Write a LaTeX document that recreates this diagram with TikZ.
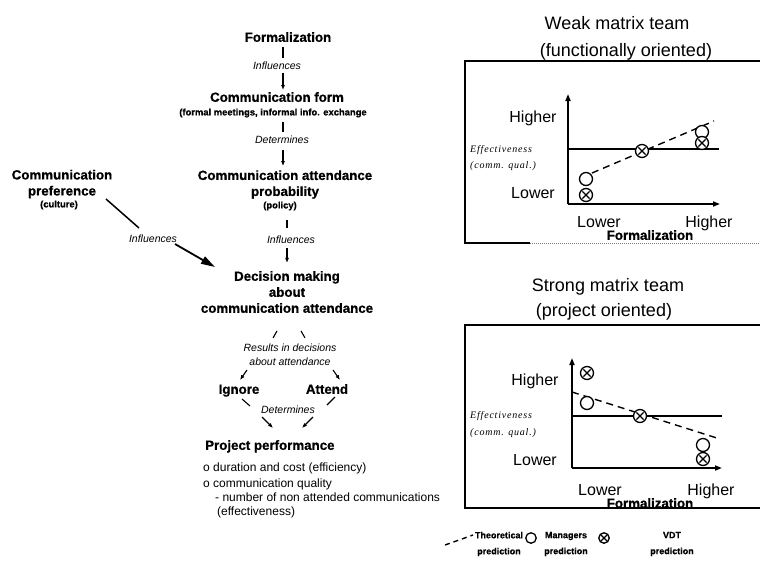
\documentclass[tikz,border=0pt]{standalone}
\usepackage{fontspec}
\setmainfont{Liberation Sans}[BoldFeatures={FakeBold=0.8}]
\newfontfamily\effont[LetterSpace=8]{Liberation Serif}
\usetikzlibrary{arrows.meta,calc}

\tikzset{
  flow/.style={inner sep=0pt, align=center},
  bnode/.style={flow, font=\fontsize{13.3}{16}\selectfont\bfseries},
  bline/.style={bnode, text height=9.6pt, text depth=0pt},
  lbl/.style={flow, font=\fontsize{10.5}{14}\selectfont\itshape, text height=7.6pt, text depth=0pt},
  lbltwo/.style={flow, font=\fontsize{10.5}{14}\selectfont\itshape},
  note/.style={flow, font=\fontsize{9.4}{11}\selectfont\bfseries, text height=6.8pt, text depth=0pt},
  item/.style={inner sep=0pt, anchor=west, font=\fontsize{12}{14}\selectfont, text height=8.6pt, text depth=0pt},
  link/.style={line width=1.1pt},
  arr/.style={link, -{Latex[length=5pt,width=4pt]}},
  bigarr/.style={line width=1.8pt, -{Triangle[length=14pt,width=8pt]}},
  title/.style={inner sep=0pt, font=\fontsize{18}{20}\selectfont, text height=13pt, text depth=0pt},
  axlbl/.style={inner sep=0pt, font=\fontsize{16}{18}\selectfont, text height=11.5pt, text depth=0pt},
  axname/.style={inner sep=0pt, font=\fontsize{13.3}{16}\selectfont\bfseries, text height=9.6pt, text depth=0pt},
  efflbl/.style={inner sep=0pt, anchor=west, font=\fontsize{10}{12}\selectfont\effont\itshape},
  frame/.style={line width=1.5pt},
  axis/.style={line width=1.6pt},
  axisarr/.style={axis, -{Triangle[length=7pt,width=5pt]}},
  refline/.style={line width=1.5pt},
  theory/.style={line width=1.4pt, dash pattern=on 7pt off 5pt},
  mgr/.style={circle, draw, fill=white, line width=1.3pt, minimum size=13pt, inner sep=0pt},
  vdt/.style={mgr, path picture={
      \draw[line width=1.2pt]
        ([shift={(-3.6pt,-3.6pt)}]path picture bounding box.center) --
        ([shift={(3.6pt,3.6pt)}]path picture bounding box.center)
        ([shift={(-3.6pt,3.6pt)}]path picture bounding box.center) --
        ([shift={(3.6pt,-3.6pt)}]path picture bounding box.center);}},
  smallmark/.style={minimum size=10.5pt},
  legend/.style={flow, font=\fontsize{9}{16}\selectfont\bfseries},
}

\begin{document}
\begin{tikzpicture}[x=1pt,y=-1pt]
\useasboundingbox (0,0) rectangle (760,563);

% ---------------- causal chain ----------------
\node[bline] (formal) at (288,37) {Formalization};
\node[lbl] (infl1) at (277,66) {Influences};
\node[bline] (cform) at (277,97) {Communication form};
\node[note] (cformnote) at (273,112) {(formal meetings, informal info. exchange};
\node[lbl] (det1) at (282,140) {Determines};
\node[bnode] (attprob) at (285,184.5) {Communication attendance\\probability};
\node[note] (policy) at (280,205) {(policy)};
\node[lbl] (infl2) at (291,240) {Influences};
\node[bnode] (decide) at (287,292) {Decision making\\about\\communication attendance};

\node[bnode] (pref) at (62,184) {Communication\\preference};
\node[note] (culture) at (59,204) {(culture)};
\node[lbl] (infl3) at (153,239) {Influences};

\node[lbltwo] (results) at (290,355) {Results in decisions\\about attendance};
\node[bline] (ignore) at (239,389) {Ignore};
\node[bline] (attend) at (327,389) {Attend};
\node[lbl] (det2) at (288,410) {Determines};
\node[bline, anchor=west] (perf) at (205,445) {Project performance};
\node[item] (perf1) at (203,467) {o duration and cost (efficiency)};
\node[item] (perf2) at (203,483) {o communication quality};
\node[item] (perf3) at (215,497) {- number of non attended communications};
\node[item] (perf4) at (217,511) {(effectiveness)};

\coordinate (spineA) at (283,0);
\coordinate (spineB) at (287,0);

\draw[link, shorten <=5pt, shorten >=4pt] (spineA |- formal.south) -- (spineA |- infl1.north);
\draw[arr, shorten <=3pt, shorten >=2pt] (spineA |- infl1.south) -- (spineA |- cform.north);
\draw[link, shorten <=6.5pt, shorten >=4pt] (spineA |- cformnote.south) -- (spineA |- det1.north);
\draw[arr, shorten <=6pt, shorten >=4pt] (spineA |- det1.south) -- (spineA |- attprob.north);
\draw[link, shorten <=11.5pt, shorten >=8pt] (spineB |- policy.south) -- (spineB |- infl2.north);
\draw[arr, shorten <=4pt, shorten >=8pt] (spineB |- infl2.south) -- (spineB |- decide.north);

% influence of culture
\draw[line width=1.5pt] ($(infl3.north)+(-47,-36)$) -- ($(infl3.north)+(-14,-7)$);
\draw[bigarr] ($(infl3.south)+(22,1)$) -- ($(infl3.south)+(62,24)$);

% decisions split into ignore / attend
\draw[link] ($(results.north)+(-13,-13)$) -- ($(results.north)+(-17,-6)$);
\draw[link] ($(results.north)+(11,-13)$) -- ($(results.north)+(15,-6)$);
\draw[arr] ($(ignore.north)+(8,-14)$) -- ($(ignore.north)+(1,-4)$);
\draw[arr] ($(attend.north)+(6,-14)$) -- ($(attend.north)+(13,-4)$);
\draw[link] ($(ignore.south)+(3,5)$) -- ($(ignore.south)+(11,12)$);
\draw[link] ($(attend.south)+(8,3)$) -- ($(attend.south)+(0,11)$);
\draw[arr] ($(det2.south)+(-26,3)$) -- ($(det2.south)+(-15,14)$);
\draw[arr] ($(det2.south)+(25,3)$) -- ($(det2.south)+(14,14)$);

% ---------------- weak matrix team ----------------
\node[title] (t1a) at (617,23) {Weak matrix team};
\node[title] (t1b) at (626,50) {(functionally oriented)};
\draw[frame] (762,61) -- (465,61) -- (465,243) -- (530,243);
\draw[line width=1pt, gray, densely dotted] (530,243) -- (762,243);

\coordinate (o1) at (568,204);
\coordinate (y1) at (568,94);
\coordinate (x1) at (720,204);
\draw[axisarr] (o1) -- (y1);
\draw[axisarr] (o1) -- (x1);
\coordinate (r1a) at (568,149);
\coordinate (r1b) at (719,149);
\draw[refline] (r1a) -- (r1b);
\coordinate (d1a) at (592,173);
\coordinate (d1b) at (714,121);
\draw[theory] (d1a) -- (d1b);
\node[mgr] (m1lo) at (586,179) {};
\node[vdt] (v1lo) at (586,195) {};
\node[vdt] (v1mid) at (642,151) {};
\node[mgr] (m1hi) at (702,132) {};
\node[vdt] (v1hi) at (702,143) {};

\node[axlbl] (h1) at (533,117) {Higher};
\node[axlbl] (l1) at (533,193) {Lower};
\node[efflbl] (e1) at (470,150) {Effectiveness};
\node[efflbl] (c1) at (470,166) {(comm. qual.)};
\node[axlbl] (xl1) at (599,222) {Lower};
\node[axlbl] (xh1) at (709,222) {Higher};
\node[axname] (f1) at (650,235) {Formalization};

% ---------------- strong matrix team ----------------
\node[title] (t2a) at (608,285) {Strong matrix team};
\node[title] (t2b) at (604,310) {(project oriented)};
\draw[frame] (762,325) -- (465,325) -- (465,508) -- (762,508);

\coordinate (o2) at (572,468);
\coordinate (y2) at (572,358);
\coordinate (x2) at (722,468);
\draw[axisarr] (o2) -- (y2);
\draw[axisarr] (o2) -- (x2);
\coordinate (r2a) at (572,416);
\coordinate (r2b) at (722,416);
\draw[refline] (r2a) -- (r2b);
\coordinate (d2a) at (572,392);
\coordinate (d2b) at (720,439);
\draw[theory] (d2a) -- (d2b);
\node[vdt] (v2hi) at (587,373) {};
\node[mgr] (m2hi) at (587,403) {};
\node[vdt] (v2mid) at (640,416) {};
\node[mgr] (m2lo) at (703,445) {};
\node[vdt] (v2lo) at (703,459) {};

\node[axlbl] (h2) at (535,380) {Higher};
\node[axlbl] (l2) at (535,460) {Lower};
\node[efflbl] (e2) at (470,416) {Effectiveness};
\node[efflbl] (c2) at (470,433) {(comm. qual.)};
\node[axlbl] (xl2) at (600,490) {Lower};
\node[axlbl] (xh2) at (711,490) {Higher};
\node[axname] (f2) at (650,503) {Formalization};

% ---------------- legend ----------------
\coordinate (lg1) at (445,545);
\coordinate (lg2) at (473,535);
\draw[theory, dash pattern=on 5pt off 4pt] (lg1) -- (lg2);
\node[legend] (lgt) at (499,544) {Theoretical\\prediction};
\node[mgr, smallmark] (lgm) at (531,538) {};
\node[legend] (lgmt) at (566,544) {Managers\\prediction};
\node[vdt, smallmark] (lgv) at (604,538) {};
\node[legend] (lgvt) at (672,544) {VDT\\prediction};
\end{tikzpicture}
\end{document}
